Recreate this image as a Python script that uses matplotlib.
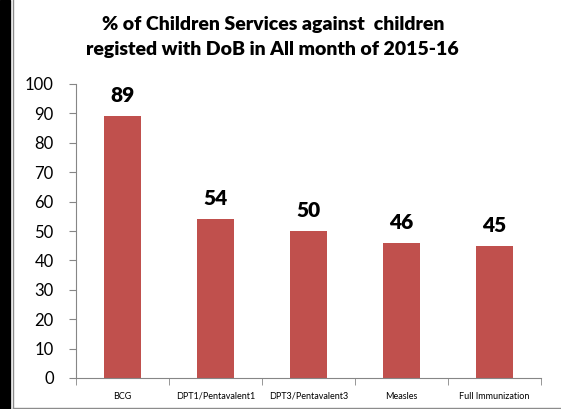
import matplotlib.pyplot as plt
import matplotlib.patches as mpatches

# Data
categories = ['BCG', 'DPT1/Pentavalent1', 'DPT3/Pentavalent3', 'Measles', 'Full Immunization']
values = [89, 54, 50, 46, 45]
y_ticks = [0, 10, 20, 30, 40, 50, 60, 70, 80, 90, 100]

plt.rcParams['font.family'] = ['Lato', 'DejaVu Sans']

fig = plt.figure(figsize=(5.61, 4.09), dpi=100)
ax = fig.add_axes([76 / 561, 31 / 409, 465 / 561, 294 / 409])

# frame around the chart + dark strip on the left
fig.patches.append(mpatches.Rectangle((0, 0), 10 / 561, 1, transform=fig.transFigure,
                                      color='black', zorder=0))
fig.lines.append(plt.Line2D([12.5 / 561, 12.5 / 561], [1.5 / 409, 1], transform=fig.transFigure,
                            color='#8c8c8c', lw=1))
fig.lines.append(plt.Line2D([12.5 / 561, 1], [1.5 / 409, 1.5 / 409], transform=fig.transFigure,
                            color='#8c8c8c', lw=1))

x = range(len(categories))
ax.bar(x, values, width=0.4, color='#C0504D', zorder=2)

for i, v in enumerate(values):
    ax.annotate(str(v), (i, v), xytext=(0, 8), textcoords='offset points',
                ha='center', va='bottom', fontsize=15, fontweight='heavy')

ax.set_xlim(-0.5, len(categories) - 0.5)
ax.set_ylim(0, 100)
ax.set_yticks(y_ticks)
ax.tick_params(axis='y', labelsize=12, length=5, color='#868686', pad=11)

ax.set_xticks(list(x))
ax.set_xticklabels(categories, fontsize=6.5)
ax.tick_params(axis='x', length=0, pad=10)
ax.set_xticks([i - 0.5 for i in range(len(categories) + 1)], minor=True)
ax.tick_params(axis='x', which='minor', length=5, color='#868686')

for s in ['top', 'right']:
    ax.spines[s].set_visible(False)
for s in ['left', 'bottom']:
    ax.spines[s].set_color('#868686')

fig.text(0.487, 0.939, '% of Children Services against  children', ha='center', va='center',
         fontsize=14, fontweight='heavy')
fig.text(0.485, 0.878, 'registed with DoB in All month of 2015-16', ha='center', va='center',
         fontsize=14, fontweight='heavy')

fig.savefig('out.png', dpi=100)
